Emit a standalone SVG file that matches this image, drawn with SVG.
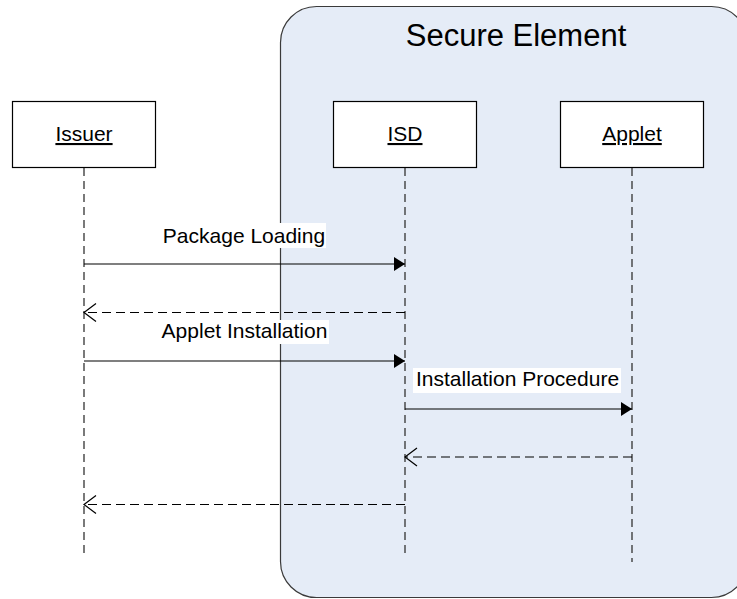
<svg xmlns="http://www.w3.org/2000/svg" width="737" height="599" viewBox="0 0 737 599">
  <defs>
    <style>
      .lbl { font-family: "Liberation Sans", Arial, sans-serif; font-size: 21px; fill: #000; }
      .title { font-family: "Liberation Sans", Arial, sans-serif; font-size: 31px; fill: #000; }
      .box { fill: #fff; stroke: #000; stroke-width: 1.2; }
      .life { stroke: #333; stroke-width: 1.3; stroke-dasharray: 8 5; fill: none; }
      .msg { stroke: #000; stroke-width: 1.2; fill: none; }
      .ret { stroke: #000; stroke-width: 1.2; stroke-dasharray: 9 5; fill: none; }
      .bg { fill: #fff; }
    </style>
    <marker id="solidHead" markerWidth="12" markerHeight="14" refX="11" refY="7" orient="auto" markerUnits="userSpaceOnUse">
      <path d="M0,0 L11,7 L0,14 Z" fill="#000"/>
    </marker>
    <marker id="openHead" markerWidth="14" markerHeight="20" refX="13" refY="10" orient="auto" markerUnits="userSpaceOnUse">
      <path d="M1,1 L13,10 L1,19" fill="none" stroke="#000" stroke-width="1.2"/>
    </marker>
  </defs>

  <!-- Secure Element container -->
  <g id="secure-element">
    <rect x="280.5" y="6.5" width="467" height="591" rx="36" ry="36" fill="#E5ECF7" stroke="#3a3a3a" stroke-width="1.2"/>
    <text class="title" x="516" y="46" text-anchor="middle">Secure Element</text>
  </g>

  <!-- Lifelines -->
  <g id="lifelines">
    <line class="life" x1="84" y1="168" x2="84" y2="556"/>
    <line class="life" x1="405" y1="168" x2="405" y2="556"/>
    <line class="life" x1="632" y1="168" x2="632" y2="562"/>
  </g>

  <!-- Participants -->
  <g id="issuer">
    <rect class="box" x="12.5" y="101.5" width="143" height="66"/>
    <text class="lbl" x="84" y="141" text-anchor="middle" text-decoration="underline">Issuer</text>
  </g>
  <g id="isd">
    <rect class="box" x="333.5" y="101.5" width="143" height="66"/>
    <text class="lbl" x="405" y="141" text-anchor="middle" text-decoration="underline">ISD</text>
  </g>
  <g id="applet">
    <rect class="box" x="560.5" y="101.5" width="143" height="66"/>
    <text class="lbl" x="632" y="141" text-anchor="middle" text-decoration="underline">Applet</text>
  </g>

  <!-- Messages -->
  <g id="connectors">
    <rect class="bg" x="161" y="223" width="165" height="25"/>
    <text class="lbl" x="244" y="243" text-anchor="middle">Package Loading</text>
    <line class="msg" x1="84" y1="264" x2="405" y2="264" marker-end="url(#solidHead)"/>

    <line class="ret" x1="405" y1="312.5" x2="84" y2="312.5" marker-end="url(#openHead)"/>

    <rect class="bg" x="159" y="320" width="170" height="24"/>
    <text class="lbl" x="244.5" y="338" text-anchor="middle">Applet Installation</text>
    <line class="msg" x1="84" y1="361" x2="405" y2="361" marker-end="url(#solidHead)"/>

    <rect class="bg" x="413" y="368" width="208" height="25"/>
    <text class="lbl" x="517.5" y="386" text-anchor="middle">Installation Procedure</text>
    <line class="msg" x1="405" y1="409" x2="632" y2="409" marker-end="url(#solidHead)"/>

    <line class="ret" x1="632" y1="457" x2="405" y2="457" marker-end="url(#openHead)"/>

    <line class="ret" x1="405" y1="504.5" x2="84" y2="504.5" marker-end="url(#openHead)"/>
  </g>
</svg>
